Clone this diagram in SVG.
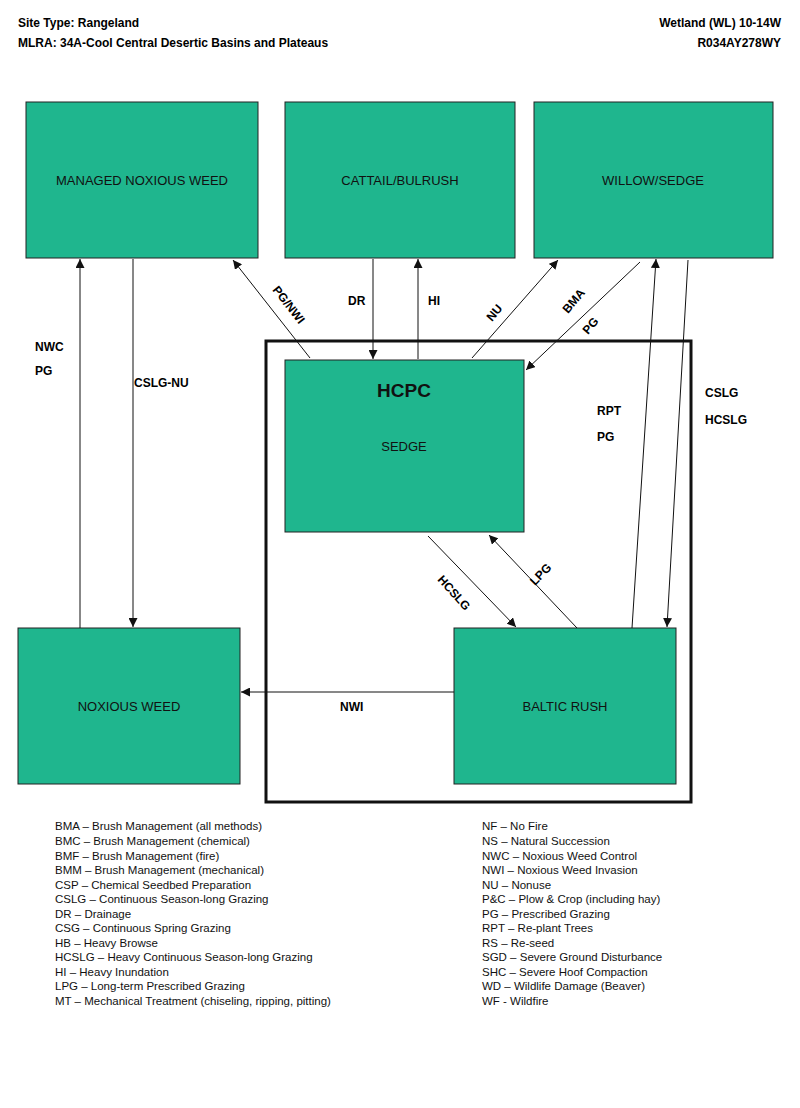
<svg xmlns="http://www.w3.org/2000/svg" width="800" height="1108" viewBox="0 0 800 1108">
<style>
.n{fill:#1fb68e;stroke:#222;stroke-width:1}
.t{font-family:"Liberation Sans",Arial,sans-serif;font-size:13px;fill:#111;text-anchor:middle}
.b{font-family:"Liberation Sans",Arial,sans-serif;font-size:12px;font-weight:bold;fill:#000}
.l{font-family:"Liberation Sans",Arial,sans-serif;font-size:11.5px;fill:#111}
.c line{stroke:#111;stroke-width:1;marker-end:url(#a)}
</style>
<defs><marker id="a" viewBox="0 0 10 10" refX="10" refY="5" markerWidth="9" markerHeight="9" orient="auto" markerUnits="userSpaceOnUse"><path d="M0,0L10,5L0,10z" fill="#111"/></marker></defs>
<rect width="800" height="1108" fill="#fff"/>
<text class="b" x="18" y="27">Site Type:  Rangeland</text>
<text class="b" x="18" y="47">MLRA:  34A-Cool Central Desertic Basins and Plateaus</text>
<text class="b" x="781" y="27" text-anchor="end">Wetland (WL) 10-14W</text>
<text class="b" x="781" y="47" text-anchor="end">R034AY278WY</text>
<rect x="266" y="341" width="425" height="461" fill="none" stroke="#111" stroke-width="3"/>
<g id="mnw"><rect class="n" x="26" y="102" width="232" height="156"/><text class="t" x="142" y="185">MANAGED NOXIOUS WEED</text></g>
<g id="cattail"><rect class="n" x="285" y="102" width="230" height="156"/><text class="t" x="400" y="185">CATTAIL/BULRUSH</text></g>
<g id="willow"><rect class="n" x="534" y="102" width="239" height="156"/><text class="t" x="653" y="185">WILLOW/SEDGE</text></g>
<g id="hcpc"><rect class="n" x="285" y="360" width="239" height="172"/><text class="t" x="404" y="397" style="font-size:19px;font-weight:bold">HCPC</text><text class="t" x="404" y="451">SEDGE</text></g>
<g id="noxious"><rect class="n" x="18" y="628" width="222" height="156"/><text class="t" x="129" y="711">NOXIOUS WEED</text></g>
<g id="baltic"><rect class="n" x="454" y="628" width="222" height="156"/><text class="t" x="565" y="711">BALTIC RUSH</text></g>
<g class="c">
<line x1="80" y1="628" x2="80" y2="259"/>
<line x1="133" y1="259" x2="133" y2="627"/>
<line x1="310" y1="358" x2="233" y2="260"/>
<line x1="373" y1="259" x2="373" y2="359"/>
<line x1="418" y1="359" x2="418" y2="259"/>
<line x1="472" y1="358" x2="558" y2="260"/>
<line x1="640" y1="262" x2="526" y2="370"/>
<line x1="632" y1="628" x2="656" y2="259"/>
<line x1="688" y1="260" x2="667" y2="627"/>
<line x1="428" y1="536" x2="516" y2="627"/>
<line x1="577" y1="628" x2="489" y2="535"/>
<line x1="454" y1="692" x2="241" y2="692"/>
</g>
<g class="b">
<text x="35" y="351">NWC</text><text x="35" y="375">PG</text>
<text x="134" y="387">CSLG-NU</text>
<text x="348" y="305">DR</text><text x="428" y="305">HI</text>
<text x="597" y="415">RPT</text><text x="597" y="441">PG</text>
<text x="705" y="397">CSLG</text><text x="705" y="424">HCSLG</text>
<text x="340" y="711">NWI</text>
<text transform="translate(272,290) rotate(52)">PG/NWI</text>
<text transform="translate(492,322) rotate(-50)">NU</text>
<text transform="translate(568,314) rotate(-50)">BMA</text>
<text transform="translate(588,335) rotate(-50)">PG</text>
<text transform="translate(437,580) rotate(48)">HCSLG</text>
<text transform="translate(535,586) rotate(-46)">LPG</text>
</g>
<g class="l">
<text x="55" y="830">BMA – Brush Management (all methods)</text>
<text x="55" y="845">BMC – Brush Management (chemical)</text>
<text x="55" y="859.5">BMF – Brush Management (fire)</text>
<text x="55" y="874">BMM – Brush Management (mechanical)</text>
<text x="55" y="888.5">CSP – Chemical Seedbed Preparation</text>
<text x="55" y="903">CSLG – Continuous Season-long Grazing</text>
<text x="55" y="917.5">DR – Drainage</text>
<text x="55" y="932">CSG – Continuous Spring Grazing</text>
<text x="55" y="946.5">HB – Heavy Browse</text>
<text x="55" y="961">HCSLG – Heavy Continuous Season-long Grazing</text>
<text x="55" y="975.5">HI – Heavy Inundation</text>
<text x="55" y="990">LPG – Long-term Prescribed Grazing</text>
<text x="55" y="1004.5">MT – Mechanical Treatment (chiseling, ripping, pitting)</text>
<text x="482" y="830">NF – No Fire</text>
<text x="482" y="845">NS – Natural Succession</text>
<text x="482" y="859.5">NWC – Noxious Weed Control</text>
<text x="482" y="874">NWI – Noxious Weed Invasion</text>
<text x="482" y="888.5">NU – Nonuse</text>
<text x="482" y="903">P&amp;C – Plow &amp; Crop (including hay)</text>
<text x="482" y="917.5">PG – Prescribed Grazing</text>
<text x="482" y="932">RPT – Re-plant Trees</text>
<text x="482" y="946.5">RS – Re-seed</text>
<text x="482" y="961">SGD – Severe Ground Disturbance</text>
<text x="482" y="975.5">SHC – Severe Hoof Compaction</text>
<text x="482" y="990">WD – Wildlife Damage (Beaver)</text>
<text x="482" y="1004.5">WF - Wildfire</text>
</g>
</svg>
